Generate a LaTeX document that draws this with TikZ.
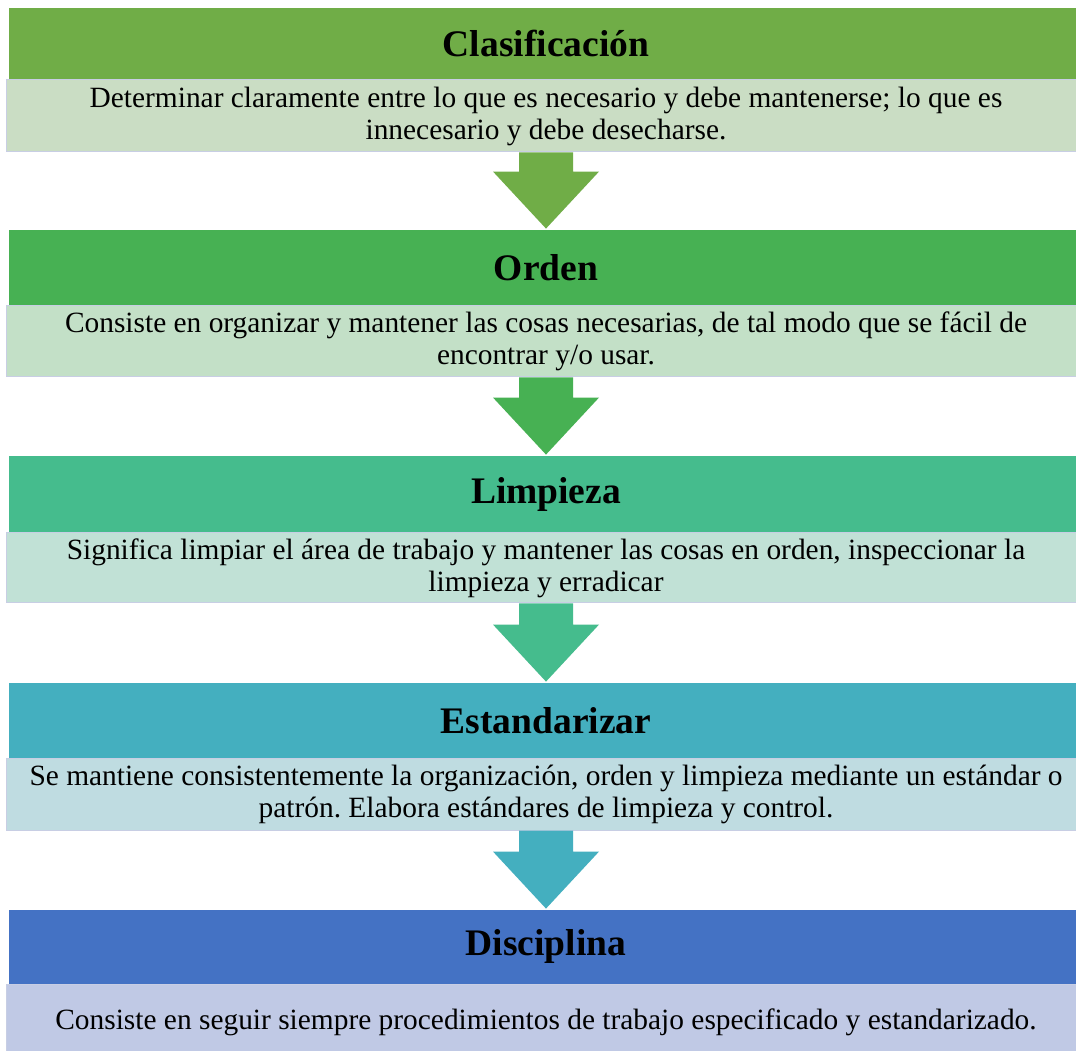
\documentclass[tikz,border=0pt]{standalone}
\usepackage{fontspec}
\setmainfont{Liberation Serif}
\usetikzlibrary{calc}
\frenchspacing
\definecolor{hA}{HTML}{70AD47}\definecolor{tA}{HTML}{CADDC4}
\definecolor{hB}{HTML}{47B153}\definecolor{tB}{HTML}{C3E0C7}
\definecolor{hC}{HTML}{45BC8D}\definecolor{tC}{HTML}{C1E1D6}
\definecolor{hD}{HTML}{44AFBF}\definecolor{tD}{HTML}{BFDCE1}
\definecolor{hE}{HTML}{4472C4}\definecolor{tE}{HTML}{C0C9E5}
\definecolor{edgeT}{HTML}{C8CEE4}
\tikzset{
  hdr/.style={rectangle, draw=white, line width=0.8pt, minimum width=1076pt, inner sep=0pt,
    font=\fontsize{37.5}{42}\selectfont\bfseries, text=black},
  txt/.style={rectangle, draw=edgeT, line width=1pt, minimum width=1080pt, inner sep=0pt,
    align=center, font=\fontsize{29.4}{32}\selectfont\frenchspacing, text=black,
    execute at begin node={\rule{0pt}{25pt}}},
}
\newcommand{\flowarrow}[3]{%
  \fill[#3] let \p1=(#1.south), \p2=(#2.north) in
    (\x1-27pt,\y1) -- (\x1+27pt,\y1) -- (\x1+27pt,\y2+57pt) -- (\x1+53pt,\y2+57pt)
    -- (\x1,\y2) -- (\x1-53pt,\y2+57pt) -- (\x1-27pt,\y2+57pt) -- cycle;}
\begin{document}
\begin{tikzpicture}[x=1pt,y=1pt]
\clip (0,0) rectangle (1076,1050);
\fill[white] (0,0) rectangle (1076,1050);
\node[hdr, fill=hA, minimum height=73pt] (h1) at (546,{1050-43.5}) {Clasificación};
\node[txt, fill=tA, minimum height=72pt] (t1) at (546,{1050-116}) {Determinar claramente entre lo que es necesario y debe mantenerse; lo que es\\innecesario y debe desecharse.};
\node[hdr, fill=hB, minimum height=77pt] (h2) at (546,{1050-267.5}) {Orden};
\node[txt, fill=tB, minimum height=71pt] (t2) at (546,{1050-341.5}) {Consiste en organizar y mantener las cosas necesarias, de tal modo que se fácil de\\encontrar y/o usar.};
\node[hdr, fill=hC, minimum height=78pt] (h3) at (546,{1050-494}) {Limpieza};
\node[txt, fill=tC, minimum height=70pt] (t3) at (546,{1050-568}) {Significa limpiar el área de trabajo y mantener las cosas en orden, inspeccionar la\\limpieza y erradicar};
\node[hdr, fill=hD, minimum height=77pt] (h4) at (546,{1050-720.5}) {Estandarizar};
\node[txt, fill=tD, minimum height=71pt] (t4) at (546,{1050-794.5}) {Se mantiene consistentemente la organización, orden y limpieza mediante un estándar o\\patrón. Elabora estándares de limpieza y control.};
\node[hdr, fill=hE, minimum height=75pt] (h5) at (546,{1050-946.5}) {Disciplina};
\node[txt, fill=tE, minimum height=72pt] (t5) at (546,{1050-1020}) {Consiste en seguir siempre procedimientos de trabajo especificado y estandarizado.};
\flowarrow{t1}{h2}{hA}
\flowarrow{t2}{h3}{hB}
\flowarrow{t3}{h4}{hC}
\flowarrow{t4}{h5}{hD}
\end{tikzpicture}
\end{document}
